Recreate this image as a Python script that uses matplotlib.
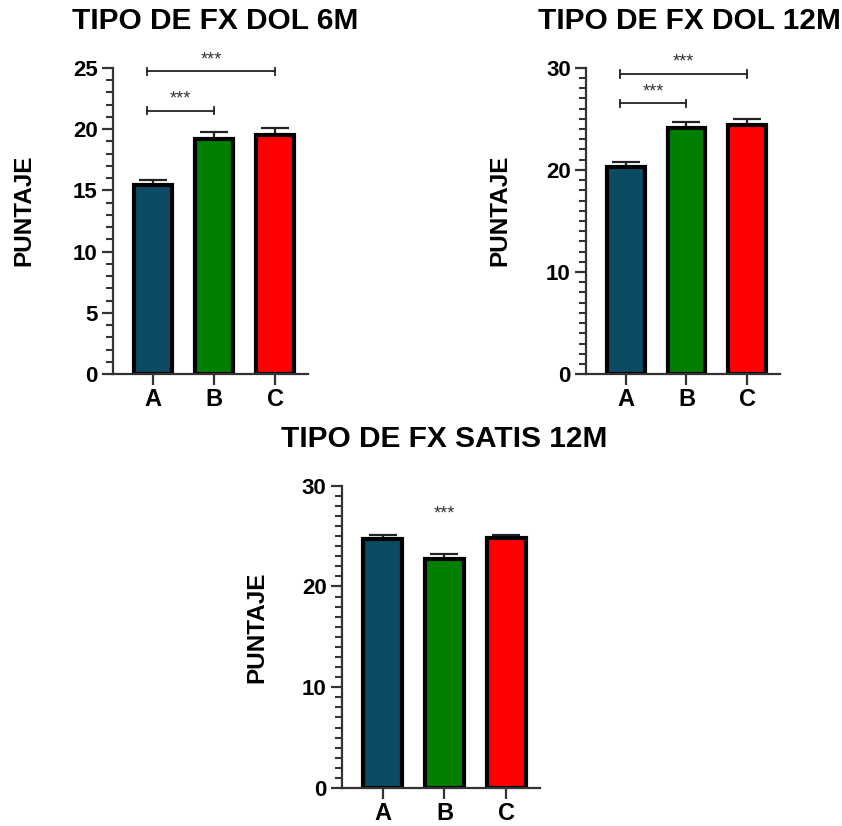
import numpy as np
import matplotlib.pyplot as plt
from matplotlib.ticker import MultipleLocator

plt.rcParams['font.family'] = ['Liberation Sans', 'DejaVu Sans']
plt.rcParams['font.weight'] = 'bold'

groups = ['A', 'B', 'C']
colors = ['#0b4b63', '#008000', '#ff0000']

dol6_mean = [15.4, 19.2, 19.5]
dol6_err = [0.45, 0.55, 0.6]
dol12_mean = [20.3, 24.1, 24.4]
dol12_err = [0.5, 0.55, 0.55]
satis12_mean = [24.7, 22.7, 24.8]
satis12_err = [0.45, 0.5, 0.3]

fig = plt.figure(figsize=(8.42, 8.26), dpi=100)


def bar_panel(rect, mean, err, title, ymax, major, ylab_x, ylab_y, title_x):
    ax = fig.add_axes(rect)
    x = np.arange(len(groups))
    ax.bar(x, mean, width=0.62, color=colors, edgecolor='black', linewidth=3.0, zorder=2)
    ax.errorbar(x, mean, yerr=[np.zeros(len(mean)), err], fmt='none', ecolor='#222222',
                elinewidth=1.6, capsize=10, capthick=1.6, zorder=1)
    ax.set_xlim(-0.66, 2.54)
    ax.set_ylim(0, ymax)
    ax.set_xticks(x)
    ax.set_xticklabels(groups, fontsize=17)
    ax.yaxis.set_major_locator(MultipleLocator(major))
    ax.yaxis.set_minor_locator(MultipleLocator(1))
    for s in ['top', 'right']:
        ax.spines[s].set_visible(False)
    for s in ['left', 'bottom']:
        ax.spines[s].set_linewidth(1.6)
        ax.spines[s].set_color('#333333')
    ax.tick_params(axis='both', which='major', length=8, width=1.6, color='#333333', pad=2)
    ax.tick_params(axis='y', labelsize=16, pad=3)
    ax.tick_params(axis='y', which='minor', length=5, width=1.5, color='#333333')
    ax.tick_params(axis='x', which='minor', bottom=False)
    ax.text(ylab_x, ylab_y, 'PUNTAJE', transform=ax.transAxes, rotation=90,
            ha='center', va='center', fontsize=17.5, fontweight='bold')
    ax.text(title_x, 1.154, title, transform=ax.transAxes, ha='center', va='center',
            fontsize=21.5, fontweight='bold')
    return ax


def bracket(ax, x1, x2, y, text='***'):
    top = ax.get_ylim()[1]
    h = top * 0.012
    ax.plot([x1, x2], [y, y], color='#222222', lw=1.3, clip_on=False)
    ax.plot([x1, x1], [y - h, y + h], color='#222222', lw=1.3, clip_on=False)
    ax.plot([x2, x2], [y - h, y + h], color='#222222', lw=1.3, clip_on=False)
    ax.text((x1 + x2) / 2, y + top * 0.01, text, ha='center', va='bottom',
            fontsize=13, color='#333333', fontweight='normal')


ax1 = bar_panel([0.134, 0.547, 0.232, 0.371], dol6_mean, dol6_err, 'TIPO DE FX DOL 6M',
                25, 5, -0.456, 0.536, 0.523)
bracket(ax1, -0.1, 1.0, 21.5)
bracket(ax1, -0.1, 2.0, 24.7)

ax2 = bar_panel([0.696, 0.547, 0.230, 0.371], dol12_mean, dol12_err, 'TIPO DE FX DOL 12M',
                30, 10, -0.443, 0.536, 0.536)
bracket(ax2, -0.1, 1.0, 26.5)
bracket(ax2, -0.1, 2.0, 29.4)

ax3 = bar_panel([0.406, 0.046, 0.235, 0.366], satis12_mean, satis12_err, 'TIPO DE FX SATIS 12M',
                30, 10, -0.43, 0.533, 0.515)
ax3.text(1, 26.3, '***', ha='center', va='bottom', fontsize=13, color='#333333', fontweight='normal')

fig.savefig('out.png', dpi=100)
